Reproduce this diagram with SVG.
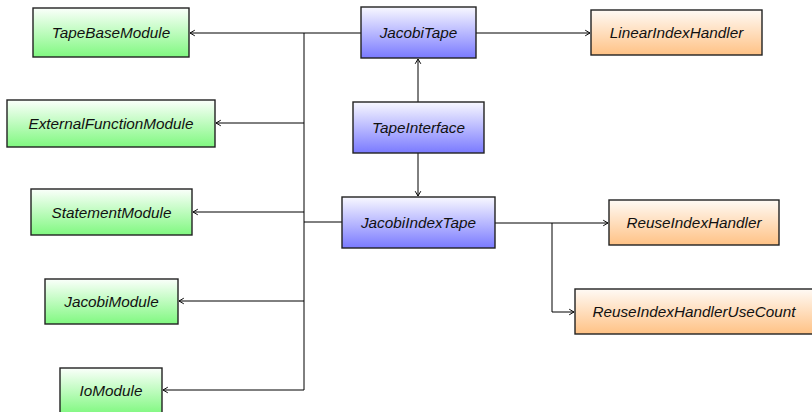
<svg xmlns="http://www.w3.org/2000/svg" width="812" height="412" viewBox="0 0 812 412">
  <defs>
    <linearGradient id="gGreen" x1="0" y1="0" x2="0" y2="1">
      <stop offset="0" stop-color="#fbfffb"/>
      <stop offset="1" stop-color="#80f880"/>
    </linearGradient>
    <linearGradient id="gBlue" x1="0" y1="0" x2="0" y2="1">
      <stop offset="0" stop-color="#f8f8ff"/>
      <stop offset="1" stop-color="#7a7aff"/>
    </linearGradient>
    <linearGradient id="gOrange" x1="0" y1="0" x2="0" y2="1">
      <stop offset="0" stop-color="#fffaf5"/>
      <stop offset="1" stop-color="#ffc285"/>
    </linearGradient>
    <marker id="arr" viewBox="0 0 10 10" refX="9" refY="5" markerWidth="8" markerHeight="8" markerUnits="userSpaceOnUse" orient="auto">
      <path d="M3,1.5 L9,5 L3,8.5" fill="none" stroke="#000" stroke-width="1.2"/>
    </marker>
    <style>
      .box { stroke: #222; stroke-width: 1.4; }
      .green { fill: url(#gGreen); }
      .blue { fill: url(#gBlue); }
      .orange { fill: url(#gOrange); }
      .lbl { font-family: "Liberation Sans", Arial, sans-serif; font-style: italic; font-size: 15.3px; fill: #111; text-anchor: middle; dominant-baseline: central; }
      .wire { fill: none; stroke: #000; stroke-width: 1; }
      .arrow { marker-end: url(#arr); }
    </style>
  </defs>

  <g id="connectors">
    <!-- shared bus feeding the modules -->
    <path class="wire" d="M361,33 H304 V390"/>
    <path class="wire" d="M342,222 H304"/>
    <path class="wire arrow" d="M304,33 H190"/>
    <path class="wire arrow" d="M304,123 H216"/>
    <path class="wire arrow" d="M304,212 H193"/>
    <path class="wire arrow" d="M304,301 H179"/>
    <path class="wire arrow" d="M304,390 H163"/>
    <!-- interface to tapes -->
    <path class="wire arrow" d="M418,102 V59"/>
    <path class="wire arrow" d="M418,153 V196"/>
    <!-- index handlers -->
    <path class="wire arrow" d="M476,33 H590"/>
    <path class="wire arrow" d="M495,223 H608"/>
    <path class="wire arrow" d="M552,223 V312 H574"/>
  </g>

  <g id="TapeBaseModule">
    <rect class="box green" x="33" y="8" width="156" height="49"/>
    <text class="lbl" x="111" y="32.5">TapeBaseModule</text>
  </g>
  <g id="ExternalFunctionModule">
    <rect class="box green" x="7" y="100" width="208" height="47"/>
    <text class="lbl" x="111" y="123.5">ExternalFunctionModule</text>
  </g>
  <g id="StatementModule">
    <rect class="box green" x="31" y="189" width="161" height="46"/>
    <text class="lbl" x="111.5" y="212">StatementModule</text>
  </g>
  <g id="JacobiModule">
    <rect class="box green" x="45" y="279" width="133" height="45"/>
    <text class="lbl" x="111.5" y="301.5">JacobiModule</text>
  </g>
  <g id="IoModule">
    <rect class="box green" x="60" y="368" width="102" height="46"/>
    <text class="lbl" x="111" y="390">IoModule</text>
  </g>

  <g id="JacobiTape">
    <rect class="box blue" x="361" y="7" width="115" height="51"/>
    <text class="lbl" x="418.5" y="32.5">JacobiTape</text>
  </g>
  <g id="TapeInterface">
    <rect class="box blue" x="353" y="102" width="131" height="51"/>
    <text class="lbl" x="418.5" y="127.5">TapeInterface</text>
  </g>
  <g id="JacobiIndexTape">
    <rect class="box blue" x="342" y="197" width="153" height="51"/>
    <text class="lbl" x="418.5" y="222.5">JacobiIndexTape</text>
  </g>

  <g id="LinearIndexHandler">
    <rect class="box orange" x="591" y="10" width="171" height="45"/>
    <text class="lbl" x="676.5" y="32.5">LinearIndexHandler</text>
  </g>
  <g id="ReuseIndexHandler">
    <rect class="box orange" x="609" y="200" width="170" height="45"/>
    <text class="lbl" x="694" y="222.5">ReuseIndexHandler</text>
  </g>
  <g id="ReuseIndexHandlerUseCount">
    <rect class="box orange" x="575" y="289" width="238" height="45"/>
    <text class="lbl" x="694" y="311.5">ReuseIndexHandlerUseCount</text>
  </g>
</svg>
